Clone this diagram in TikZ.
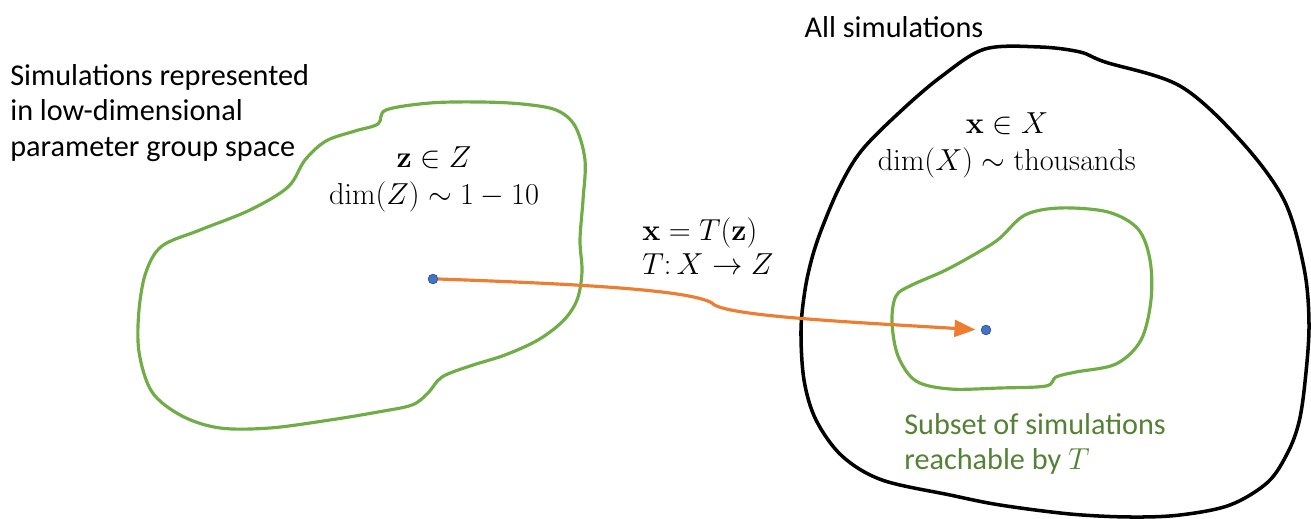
\documentclass[tikz,border=0pt]{standalone}
\usepackage[no-math]{fontspec}
\setmainfont{Carlito}
\usetikzlibrary{arrows.meta}
\definecolor{lgreen}{HTML}{70AD47}
\definecolor{dgreen}{HTML}{548235}
\definecolor{orng}{HTML}{ED7D31}
\definecolor{dotblue}{HTML}{4472C4}
\definecolor{dotedge}{HTML}{2F528F}
\tikzset{
  blobgreen/.style={draw=lgreen,line width=1.8pt,line join=round},
  blobblack/.style={draw=black,line width=2pt,line join=round},
  pt/.style={circle,fill=dotblue,draw=dotedge,line width=0.4pt,inner sep=0pt,minimum size=5.5pt},
  lbl/.style={font=\fontsize{17.2}{20.2}\selectfont,align=left,inner sep=0pt},
  mth/.style={font=\fontsize{16.5}{21}\selectfont,align=center,inner sep=0pt},
  flow/.style={draw=orng,line width=1.8pt,-{Triangle[length=12pt,width=9.5pt]},shorten >=3pt}
}
\begin{document}
\begin{tikzpicture}[x=0.02cm,y=-0.02cm]
\useasboundingbox (0,0) rectangle (1311,519);
% left green blob
\draw[blobgreen] plot[smooth cycle,tension=0.55] coordinates{
 (378,124) (386,110) (430,103) (480,102) (522,104) (556,110) (575,126) (585,160)
 (583,200) (580,240) (582,272) (577,300) (563,321) (538,340) (505,355) (470,366)
 (442,377) (428,393) (412,405) (378,412) (330,420) (270,428) (220,428) (182,416)
 (152,392) (139,352) (139,310) (146,272) (162,246) (200,230) (250,210) (288,187)
 (305,160) (326,141) (355,131)};
% black blob
\draw[blobblack] plot[smooth cycle,tension=0.55] coordinates{
 (985,49) (1040,47) (1080,52) (1105,62) (1180,86) (1240,140) (1284,200) (1304,268)
 (1309,325) (1305,382) (1299,422) (1288,452) (1268,482) (1230,505) (1180,515)
 (1130,517) (1070,514) (1000,505) (950,495) (882,480) (842,456) (816,420) (804,380)
 (801,330) (805,290) (812,258) (822,228) (840,186) (862,150) (902,110) (942,76)};
% inner green blob
\draw[blobgreen] plot[smooth cycle,tension=0.55] coordinates{
 (1000,238) (1025,215) (1060,208) (1108,212) (1138,229) (1150,260) (1151,300)
 (1141,340) (1116,364) (1076,372) (1056,377) (1046,386) (1000,388) (950,389)
 (916,381) (898,356) (892,322) (896,296) (912,285) (946,270) (982,250)};
% dots
\node[pt] (zdot) at (433,279) {};
\node[pt] (xdot) at (986,330) {};
\coordinate (kink) at (712,303);
\draw[flow] (zdot.east) .. controls (580,284) and (690,290) .. (kink)
  .. controls (722,316) and (850,322) .. (xdot.west);
% texts
\node[lbl,anchor=north west] (ltext) at (10,64) {Simulations represented\\in low-dimensional\\parameter group space};
\node[lbl,anchor=center] (alls) at (894,27) {All simulations};
\node[mth] (zspace) at (434,179) {$\mathbf{z}\in Z$\\$\dim(Z)\sim 1-10$};
\node[mth,anchor=west,align=left,font=\fontsize{16.5}{19}\selectfont] (tmap) at (642,246) {$\mathbf{x}=T(\mathbf{z})$\\$T\colon X\to Z$};
\node[mth] (xspace) at (1007,145) {$\mathbf{x}\in X$\\$\dim(X)\sim \mathrm{thousands}$};
\node[lbl,anchor=north west,text=dgreen] (sub) at (904,413) {Subset of simulations\\reachable by $T$};
\end{tikzpicture}
\end{document}
